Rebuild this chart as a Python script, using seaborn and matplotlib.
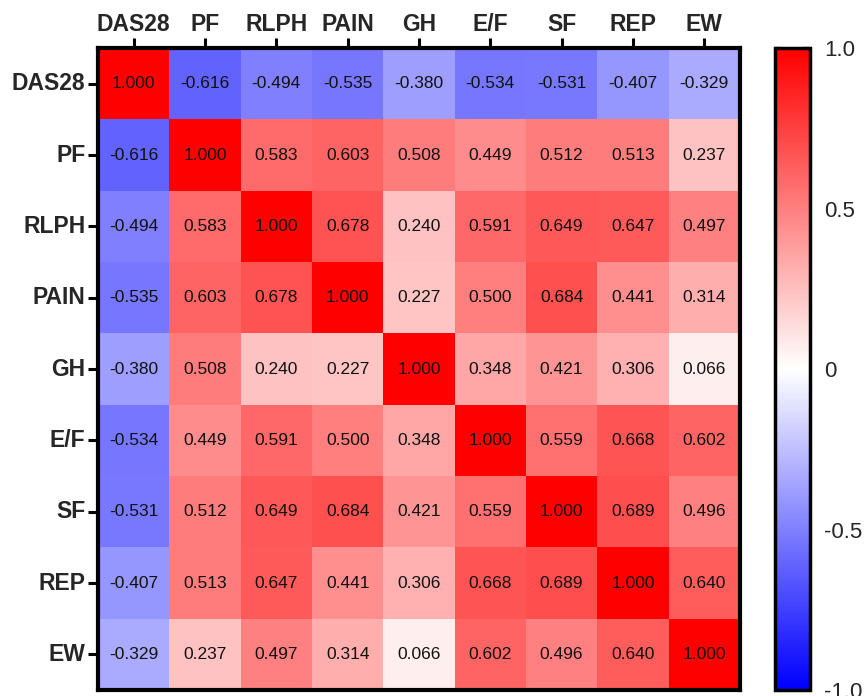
import numpy as np
import pandas as pd
import matplotlib
matplotlib.use("Agg")
import matplotlib.pyplot as plt
import seaborn as sns

labels = ["DAS28", "PF", "RLPH", "PAIN", "GH", "E/F", "SF", "REP", "EW"]

das28 = [1.000, -0.616, -0.494, -0.535, -0.380, -0.534, -0.531, -0.407, -0.329]
pf    = [-0.616, 1.000, 0.583, 0.603, 0.508, 0.449, 0.512, 0.513, 0.237]
rlph  = [-0.494, 0.583, 1.000, 0.678, 0.240, 0.591, 0.649, 0.647, 0.497]
pain  = [-0.535, 0.603, 0.678, 1.000, 0.227, 0.500, 0.684, 0.441, 0.314]
gh    = [-0.380, 0.508, 0.240, 0.227, 1.000, 0.348, 0.421, 0.306, 0.066]
ef    = [-0.534, 0.449, 0.591, 0.500, 0.348, 1.000, 0.559, 0.668, 0.602]
sf    = [-0.531, 0.512, 0.649, 0.684, 0.421, 0.559, 1.000, 0.689, 0.496]
rep   = [-0.407, 0.513, 0.647, 0.441, 0.306, 0.668, 0.689, 1.000, 0.640]
ew    = [-0.329, 0.237, 0.497, 0.314, 0.066, 0.602, 0.496, 0.640, 1.000]

cbar_ticks = [-1.0, -0.5, 0.0, 0.5, 1.0]
cbar_ticklabels = ["-1.0", "-0.5", "0", "0.5", "1.0"]

corr = pd.DataFrame([das28, pf, rlph, pain, gh, ef, sf, rep, ew],
                    index=labels, columns=labels)

sns.set_style("white")
plt.rcParams["font.family"] = ["Liberation Sans", "DejaVu Sans"]

fig = plt.figure(figsize=(8.64, 6.96), dpi=100)
ax = fig.add_axes([0.1134, 0.0086, 0.743, 0.9224])
cax = fig.add_axes([0.897, 0.0086, 0.0405, 0.9224])

sns.heatmap(corr, ax=ax, cbar_ax=cax, cmap="bwr", vmin=-1, vmax=1,
            annot=True, fmt=".3f", annot_kws={"fontsize": 12.5, "color": "#111111"},
            linewidths=0, square=False)

# tick labels on top and left, bold
ax.xaxis.tick_top()
ax.xaxis.set_label_position("top")
ax.set_xlabel("")
ax.set_ylabel("")
ax.set_xticklabels(labels, rotation=0, fontsize=16.5, fontweight="bold")
ax.set_yticklabels(labels, rotation=0, fontsize=16.5, fontweight="bold")
ax.tick_params(axis="both", which="both", length=7, width=2.2, color="black",
               pad=2, top=True, left=True, bottom=False, right=False)

for spine in ax.spines.values():
    spine.set_visible(True)
    spine.set_linewidth(3)
    spine.set_color("black")

# colorbar styling
cbar = ax.collections[0].colorbar
cbar.set_ticks(cbar_ticks)
cbar.set_ticklabels(cbar_ticklabels)
cax.tick_params(axis="y", direction="in", left=True, right=True, length=5,
                width=1.6, color="black", labelleft=False, labelright=True,
                pad=10, labelsize=16)
cbar.outline.set_linewidth(2.5)
cbar.outline.set_edgecolor("black")

fig.savefig("out.png", dpi=100)
